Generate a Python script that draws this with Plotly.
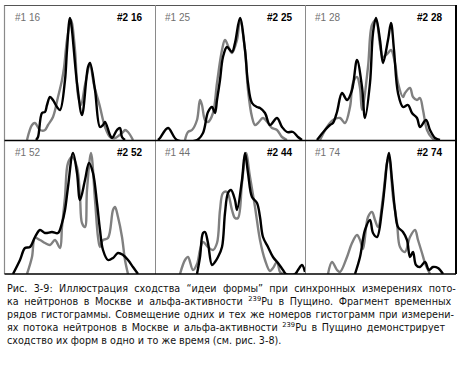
import plotly.graph_objects as go

W, H = 464, 365

# ---- data (channel, count) ----
panel_ids = ["16", "25", "28", "52", "44", "74"]

x16_1 = [22, 27, 30, 35, 40, 43, 48, 53, 57, 59, 62, 66, 70, 73, 76, 80, 85, 89, 95, 98, 100, 105, 110, 118, 120, 123, 128]
y16_1 = [0, 15, 17, 10, 10, 15, 23, 43, 60, 72, 100, 120, 90, 45, 35, 55, 75, 55, 33, 20, 13, 3, 2, 8, 10, 8, 0]
x16_2 = [31, 33, 37, 40, 42, 45, 48, 52, 55, 60, 62, 65, 72, 77, 83, 85, 90, 95, 98, 100, 105, 107, 112, 115, 117, 120]
y16_2 = [0, 3, 27, 28, 35, 43, 40, 33, 30, 60, 90, 122, 57, 25, 73, 77, 50, 13, 15, 18, 5, 2, 10, 12, 3, 0]

x25_1 = [30, 33, 37, 42, 45, 47, 50, 53, 58, 62, 67, 70, 74, 77, 82, 85, 90, 93, 97, 100, 103, 108, 113, 117, 122, 127, 132]
y25_1 = [0, 8, 10, 20, 40, 35, 20, 18, 27, 57, 90, 100, 92, 87, 100, 120, 90, 50, 23, 15, 17, 22, 17, 12, 10, 3, 0]
x25_2 = [3, 5, 13, 22, 42, 48, 53, 57, 60, 62, 65, 68, 72, 77, 80, 85, 90, 93, 97, 102, 105, 110, 115, 122, 127, 132, 138, 143, 147]
y25_2 = [0, 2, 12, 0, 0, 7, 28, 33, 27, 40, 60, 83, 93, 88, 97, 122, 90, 57, 37, 33, 32, 27, 15, 22, 13, 8, 8, 3, 0]

x28_1 = [15, 22, 28, 35, 40, 45, 48, 52, 55, 57, 63, 67, 71, 75, 78, 83, 86, 90, 93, 98, 100, 105, 108, 112, 115, 118, 122, 127, 130]
y28_1 = [0, 13, 20, 22, 17, 33, 57, 63, 52, 30, 73, 115, 120, 95, 83, 87, 90, 77, 57, 43, 47, 52, 43, 40, 42, 30, 10, 2, 0]
x28_2 = [12, 20, 25, 28, 32, 37, 42, 47, 52, 57, 60, 65, 68, 71, 75, 78, 83, 86, 89, 93, 98, 103, 107, 112, 115, 121, 125, 130, 135]
y28_2 = [0, 10, 15, 17, 28, 47, 40, 50, 80, 53, 22, 57, 107, 122, 100, 77, 100, 117, 90, 47, 33, 35, 27, 22, 13, 20, 10, 2, 0]

x52_1 = [22, 27, 30, 35, 40, 45, 50, 55, 57, 60, 63, 67, 72, 75, 77, 80, 82, 86, 90, 93, 95, 98, 103, 108, 110, 113, 117, 120, 123]
y52_1 = [0, 17, 36, 34, 31, 29, 34, 26, 47, 77, 111, 117, 107, 77, 51, 47, 84, 121, 74, 37, 27, 34, 36, 64, 67, 57, 37, 14, 0]
x52_2 = [8, 15, 20, 25, 30, 35, 40, 47, 53, 57, 60, 63, 68, 72, 75, 80, 84, 88, 92, 95, 98, 103, 108, 113, 118, 123, 128, 133]
y52_2 = [0, 14, 26, 27, 37, 44, 41, 42, 41, 51, 64, 87, 121, 101, 74, 94, 111, 101, 71, 44, 24, 14, 16, 21, 19, 14, 7, 0]

x44_1 = [25, 30, 33, 38, 42, 45, 48, 53, 58, 62, 65, 68, 72, 77, 80, 83, 87, 91, 95, 100, 105, 110, 115, 118, 122, 125, 128]
y44_1 = [0, 14, 17, 4, 10, 24, 32, 27, 24, 31, 64, 81, 82, 64, 56, 56, 91, 121, 97, 67, 34, 14, 3, 6, 12, 2, 0]
x44_2 = [42, 45, 48, 50, 53, 57, 60, 63, 67, 70, 73, 76, 80, 82, 87, 90, 93, 97, 102, 105, 108, 113, 118, 123, 128, 131, 140, 143, 147, 150]
y44_2 = [0, 17, 41, 42, 31, 9, 12, 17, 27, 61, 81, 84, 74, 64, 94, 121, 101, 77, 71, 57, 37, 27, 17, 11, 4, 0, 0, 4, 9, 2]

x74_1 = [23, 27, 32, 35, 42, 47, 52, 55, 58, 63, 67, 70, 73, 78, 82, 84, 88, 92, 95, 100, 105, 110, 113, 117, 120, 125]
y74_1 = [0, 12, 4, 2, 17, 31, 39, 34, 25, 57, 62, 54, 47, 77, 111, 117, 77, 51, 27, 22, 37, 44, 34, 21, 11, 0]
x74_2 = [50, 55, 60, 65, 68, 72, 77, 80, 82, 84, 87, 90, 93, 98, 102, 105, 108, 111, 115, 120, 124, 128, 133, 138]
y74_2 = [0, 17, 44, 54, 41, 37, 64, 91, 111, 121, 94, 64, 47, 42, 34, 17, 22, 9, 7, 12, 4, 7, 6, 0]

series = {
    "16": (x16_1, y16_1, x16_2, y16_2),
    "25": (x25_1, y25_1, x25_2, y25_2),
    "28": (x28_1, y28_1, x28_2, y28_2),
    "52": (x52_1, y52_1, x52_2, y52_2),
    "44": (x44_1, y44_1, x44_2, y44_2),
    "74": (x74_1, y74_1, x74_2, y74_2),
}

caption_lines = [
    "Рис. 3-9: Иллюстрация сходства “идеи формы” при синхронных измерениях пото-",
    "ка нейтронов в Москве и альфа-активности <sup>239</sup>Pu в Пущино. Фрагмент временных",
    "рядов гистограммы. Совмещение одних и тех же номеров гистограмм при измерени-",
    "ях потока нейтронов в Москве и альфа-активности <sup>239</sup>Pu в Пущино демонстрирует",
    "сходство их форм в одно и то же время (см. рис. 3-8).",
]
# extra inter-word padding to imitate the justified paragraph
caption_pad = ["\u2005\u200a", "\u2006\u200a", "\u200a", "\u2006", ""]

# ---- layout helpers ----
def px(x):
    return x / W

def py(y):
    return 1 - y / H

col_left = [5, 155, 305]
col_w = 150
rows = [(5, 140), (141, 274)]

fig = go.Figure()
layout = dict(
    width=W, height=H, margin=dict(l=0, r=0, t=0, b=0),
    paper_bgcolor="white", plot_bgcolor="rgba(0,0,0,0)", showlegend=False,
)
annotations = []
shapes = []

for i, pid in enumerate(panel_ids):
    r, c = divmod(i, 3)
    top, base = rows[r]
    left = col_left[c]
    n = i + 1
    xa = "xaxis" if n == 1 else f"xaxis{n}"
    ya = "yaxis" if n == 1 else f"yaxis{n}"
    layout[xa] = dict(domain=[px(left), px(left + col_w)], range=[0, col_w],
                      visible=False, fixedrange=True)
    layout[ya] = dict(domain=[py(base), py(top)], range=[0, base - top],
                      visible=False, fixedrange=True)
    xg, yg, xb, yb = series[pid]
    xr = "x" if n == 1 else f"x{n}"
    yr = "y" if n == 1 else f"y{n}"
    fig.add_trace(go.Scatter(x=xg, y=yg, mode="lines", xaxis=xr, yaxis=yr,
                             line=dict(color="#808080", width=2.4, shape="spline", smoothing=1.0),
                             hoverinfo="skip"))
    fig.add_trace(go.Scatter(x=xb, y=yb, mode="lines", xaxis=xr, yaxis=yr,
                             line=dict(color="#000000", width=2.4, shape="spline", smoothing=1.0),
                             hoverinfo="skip"))
    annotations.append(dict(x=px(left + 8), y=py(top + 12), xref="paper", yref="paper",
                            text=f"#1 {pid}", showarrow=False, xanchor="left", yanchor="middle",
                            font=dict(family="Liberation Sans", size=10, color="#707070")))
    annotations.append(dict(x=px(left + col_w - 11), y=py(top + 12), xref="paper", yref="paper",
                            text=f"<b>#2 {pid}</b>", showarrow=False, xanchor="right", yanchor="middle",
                            font=dict(family="Liberation Sans", size=10, color="#000000")))

# frame lines
gray = "#8a8a8a"
shapes.append(dict(type="line", xref="paper", yref="paper", x0=px(4.5), x1=px(4.5), y0=py(5), y1=py(274), line=dict(color=gray, width=1.2)))
shapes.append(dict(type="line", xref="paper", yref="paper", x0=px(4.5), x1=px(456), y0=py(5.5), y1=py(5.5), line=dict(color="#555555", width=1.2)))
shapes.append(dict(type="line", xref="paper", yref="paper", x0=px(456), x1=px(456), y0=py(5), y1=py(274), line=dict(color="#000000", width=2)))
for xv in (155.5, 305.5):
    shapes.append(dict(type="line", xref="paper", yref="paper", x0=px(xv), x1=px(xv), y0=py(5), y1=py(274), line=dict(color=gray, width=1)))
for yv in (140.5, 274):
    shapes.append(dict(type="line", xref="paper", yref="paper", x0=px(4.5), x1=px(456), y0=py(yv), y1=py(yv), line=dict(color="#000000", width=1.3)))

for k, line in enumerate(caption_lines):
    text = line.replace(" ", " " + caption_pad[k]) if caption_pad[k] else line
    annotations.append(dict(x=px(5), y=py(288 + 13 * k), xref="paper", yref="paper",
                            text=text, showarrow=False, xanchor="left", yanchor="middle",
                            font=dict(family="DejaVu Sans", size=9.6, color="#111111")))

layout["annotations"] = annotations
layout["shapes"] = shapes
fig.update_layout(**layout)
fig.write_html("out.html", config={"displayModeBar": False},
               post_script="document.body.style.margin='0';document.body.style.overflow='hidden';")
